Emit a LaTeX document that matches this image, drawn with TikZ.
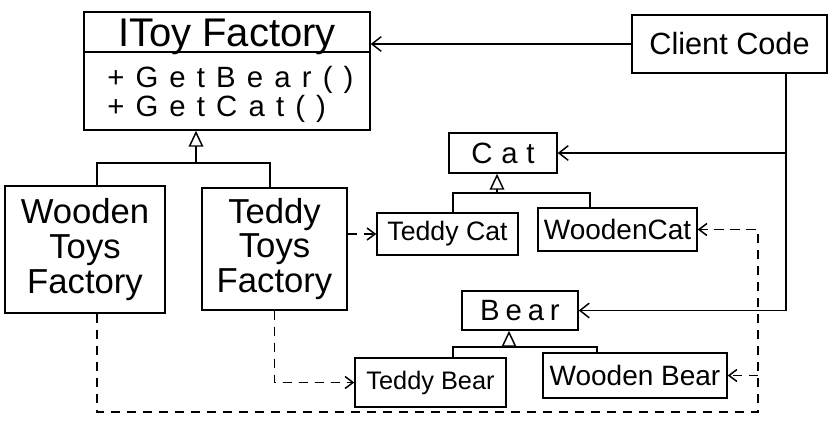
\documentclass[tikz,border=0pt]{standalone}
\usepackage{fontspec}
\setmainfont{Liberation Sans}
\newfontfamily\spA[LetterSpace=38]{Liberation Sans}
\newfontfamily\spB[LetterSpace=30]{Liberation Sans}
\newfontfamily\spC[LetterSpace=20]{Liberation Sans}
\usetikzlibrary{arrows.meta,calc}
\begin{document}
\begin{tikzpicture}[x=0.75pt,y=-0.75pt,
  box/.style={draw,line width=1.1pt,rectangle,inner sep=0pt},
  conn/.style={line width=1.1pt},
  arr/.style={conn,-{Straight Barb[length=7pt,width=11pt]}},
  dep/.style={conn,dash pattern=on 7pt off 5pt,-{Straight Barb[length=6pt,width=9pt]}},
  inh/.style={conn,-{Triangle[open,length=12pt,width=11pt]}},
  txt/.style={inner sep=0pt}]
\useasboundingbox (0,0) rectangle (834,434);
% IToy Factory
\node[box,minimum width=214.5pt,minimum height=88.5pt] (itoy) at (227,71) {};
\draw[conn] (itoy.west |- 0,52) -- (itoy.east |- 0,52);
\node[txt,anchor=base,font=\fontsize{30}{30}\selectfont] (itoyt) at (227,47) {IToy Factory};
\node[txt,anchor=base west,font=\fontsize{22}{22}\spA] (gb) at (107,88) {+GetBear()};
\node[txt,anchor=base west,font=\fontsize{22}{22}\spA] (gc) at (107,117) {+GetCat()};
% Client
\node[box,minimum width=146.25pt,minimum height=43.5pt,font=\fontsize{23}{23}\selectfont] (client) at (729.5,44) {Client Code};
% Factories
\node[box,minimum width=120pt,minimum height=95.25pt,align=center,font=\fontsize{26}{26}\selectfont] (wtf) at (85,249.5) {Wooden\\Toys\\Factory};
\node[box,minimum width=108.75pt,minimum height=91.5pt,align=center,font=\fontsize{26}{26}\selectfont] (ttf) at (274.5,249) {Teddy\\Toys\\Factory};
% Cat family
\node[box,minimum width=81pt,minimum height=30pt,font=\fontsize{22}{22}\spB] (cat) at (503,153) {Cat};
\node[box,minimum width=105.75pt,minimum height=31.5pt,font=\fontsize{20}{20}\selectfont] (tcat) at (447.5,234) {Teddy Cat};
\node[box,minimum width=119.25pt,minimum height=32.25pt,font=\fontsize{21}{21}\selectfont] (wcat) at (617.5,229.5) {WoodenCat};
% Bear family
\node[box,minimum width=87pt,minimum height=29.25pt,font=\fontsize{22}{22}\spC] (bear) at (520,310.5) {Bear};
\node[box,minimum width=113.25pt,minimum height=36.75pt,font=\fontsize{19}{19}\selectfont] (tbear) at (430.5,382.5) {Teddy Bear};
\node[box,minimum width=138pt,minimum height=33.75pt,font=\fontsize{21}{21}\selectfont] (wbear) at (635,375.5) {Wooden Bear};
% coordinates
\coordinate (jI) at (196,163);
\coordinate (jC) at (497,193);
\coordinate (jB) at (509,347);
\coordinate (cv) at (786,0);
\coordinate (db) at (758,412);
\coordinate (wcx) at (590,0);
\coordinate (wbx) at (597,0);
\coordinate (tbx) at (453,0);
\coordinate (wtx) at (97,0);
\coordinate (ttx) at (270,0);
% client associations
\draw[arr] (client.west) -- (client.west -| itoy.east);
\draw[arr] (client.south -| cv) |- (bear.east);
\draw[arr] (cv |- cat.east) -- (cat.east);
% inheritance factories
\draw[inh] (jI) -- (jI |- itoy.south);
\draw[conn] (wtf.north -| wtx) |- (jI) -| (ttf.north -| ttx);
% inheritance cats
\draw[inh] (jC) -- (jC |- cat.south);
\draw[conn] (tcat.north -| tbx) |- (jC) -| (wcat.north -| wcx);
% inheritance bears
\draw[inh] (jB) -- (jB |- bear.south);
\draw[conn] (tbear.north -| tbx) |- (jB) -| (wbear.north -| wbx);
% dependencies
\draw[dep] (ttf.east |- tcat.west) -- (tcat.west);
\draw[dep] (ttf.south) |- (tbear.west);
\draw[dep] (wtf.south -| wtx) |- (db) |- (wcat.east);
\draw[dep] (db |- wbear.east) -- (wbear.east);
\end{tikzpicture}
\end{document}
